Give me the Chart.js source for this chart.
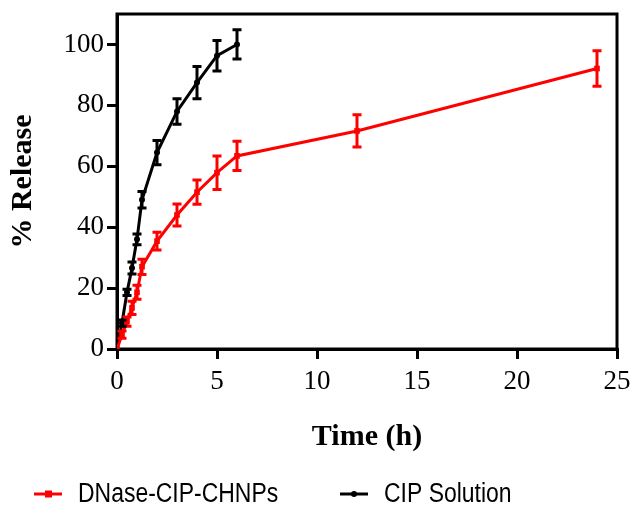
<!DOCTYPE html>
<html>
<head>
<meta charset="utf-8">
<script src="https://cdn.jsdelivr.net/npm/chart.js@4/dist/chart.umd.min.js"></script>
<style>
  html, body { margin: 0; padding: 0; background: #fff; }
  #wrap { width: 631px; height: 507px; }
</style>
</head>
<body>
<div id="wrap"><canvas id="grafico" width="631" height="507"></canvas></div>
<script>
// tiempos de muestreo (h)
const tiemposNP = [0, 0.25, 0.5, 0.75, 1, 1.25, 2, 3, 4, 5, 6, 12, 24];
const liberacionNP = [0, 4.7, 9, 13.5, 18.6, 27, 35.4, 44, 51.5, 57.9, 63.4, 71.6, 92.1];
const errorNP = [0, 1.2, 1.5, 2.2, 2.3, 2.5, 2.9, 3.6, 4, 5.5, 4.8, 5.3, 5.8];

const tiemposSol = [0, 0.25, 0.5, 0.75, 1, 1.25, 2, 3, 4, 5, 6];
const liberacionSol = [0, 8.5, 18.6, 26.6, 36, 49, 64.5, 78, 87.5, 96.3, 100];
const errorSol = [0, 1, 1, 2, 1.8, 2.7, 4, 4.2, 5.3, 5, 4.8];

const etiquetas = ['DNase-CIP-CHNPs', 'CIP Solution'];
const ticksX = [0, 5, 10, 15, 20, 25];
const ticksY = [0, 20, 40, 60, 80, 100];

const serif = "'Liberation Serif', 'Times New Roman', serif";

function puntos(xs, ys) {
    return xs.map((x, i) => ({ x: x, y: ys[i] }));
}

// barras de error dibujadas con las escalas del gráfico
const barrasError = {
    id: 'barrasError',
    afterDatasetsDraw(chart) {
        const ctx = chart.ctx;
        const yScale = chart.scales.y;
        chart.data.datasets.forEach((ds, i) => {
            const meta = chart.getDatasetMeta(i);
            ctx.save();
            ctx.strokeStyle = ds.borderColor;
            ctx.lineWidth = 3;
            meta.data.forEach((pt, j) => {
                const e = ds.errores[j];
                if (!e) return;
                const v = ds.data[j].y;
                const y1 = yScale.getPixelForValue(v - e);
                const y2 = yScale.getPixelForValue(v + e);
                ctx.beginPath();
                ctx.moveTo(pt.x, y1); ctx.lineTo(pt.x, y2);
                ctx.moveTo(pt.x - 4.5, y1); ctx.lineTo(pt.x + 4.5, y1);
                ctx.moveTo(pt.x - 4.5, y2); ctx.lineTo(pt.x + 4.5, y2);
                ctx.stroke();
            });
            ctx.restore();
        });
    }
};

// marco completo alrededor del área del gráfico
const marco = {
    id: 'marco',
    beforeDatasetsDraw(chart) {
        const a = chart.chartArea;
        const ctx = chart.ctx;
        ctx.save();
        ctx.strokeStyle = '#000';
        ctx.lineWidth = 3;
        ctx.strokeRect(a.left, a.top, a.right - a.left, a.bottom - a.top);
        ctx.restore();
    }
};

// leyenda inferior con línea y marcador
const leyenda = {
    id: 'leyenda',
    afterDraw(chart) {
        const ctx = chart.ctx;
        const y = 494;
        const items = [
            { x: 34, color: 'rgb(255,0,0)', forma: 'cuadro', texto: etiquetas[0] },
            { x: 340, color: '#000', forma: 'circulo', texto: etiquetas[1] }
        ];
        items.forEach(it => {
            ctx.save();
            ctx.strokeStyle = it.color;
            ctx.fillStyle = it.color;
            ctx.lineWidth = 3;
            ctx.beginPath();
            ctx.moveTo(it.x, y); ctx.lineTo(it.x + 28, y);
            ctx.stroke();
            if (it.forma === 'cuadro') {
                ctx.fillRect(it.x + 11, y - 3.5, 7, 7);
            } else {
                ctx.beginPath();
                ctx.arc(it.x + 14, y, 3, 0, Math.PI * 2);
                ctx.fill();
            }
            ctx.fillStyle = '#000';
            ctx.font = "27px 'Liberation Sans', Arial, sans-serif";
            ctx.textBaseline = 'middle';
            ctx.translate(it.x + 44, y);
            ctx.scale(0.85, 1);
            ctx.fillText(it.texto, 0, 1);
            ctx.restore();
        });
    }
};

const ctx = document.getElementById('grafico').getContext('2d');
new Chart(ctx, {
    type: 'scatter',
    data: {
        datasets: [
            {
                label: etiquetas[0],
                data: puntos(tiemposNP, liberacionNP),
                errores: errorNP,
                showLine: true,
                borderColor: 'rgb(255,0,0)',
                backgroundColor: 'rgb(255,0,0)',
                borderWidth: 3,
                pointStyle: 'rect',
                pointRadius: 4,
                pointBorderWidth: 0
            },
            {
                label: etiquetas[1],
                data: puntos(tiemposSol, liberacionSol),
                errores: errorSol,
                showLine: true,
                borderColor: '#000',
                backgroundColor: '#000',
                borderWidth: 3,
                pointStyle: 'circle',
                pointRadius: 3,
                pointBorderWidth: 0
            }
        ]
    },
    options: {
        responsive: false,
        animation: false,
        layout: { padding: { left: 0, top: 14, right: 14, bottom: 52 } },
        plugins: {
            legend: { display: false },
            tooltip: { enabled: false }
        },
        scales: {
            x: {
                type: 'linear',
                min: 0,
                max: 25,
                afterFit: s => { s.height = 106; s.paddingLeft = 0; s.paddingRight = 0; },
                afterBuildTicks: s => { s.ticks = ticksX.map(v => ({ value: v })); },
                grid: { display: true, drawOnChartArea: false, drawTicks: true, tickLength: 10, lineWidth: 3, color: '#000' },
                border: { display: true, width: 3, color: '#000' },
                ticks: { color: '#000', padding: 7, maxRotation: 0, font: { family: serif, size: 27 } },
                title: { display: true, text: 'Time (h)', color: '#000', padding: { top: 0, bottom: 0 }, font: { family: serif, size: 30, weight: 'bold' } }
            },
            y: {
                min: 0,
                max: 110,
                afterFit: s => { s.width = 117; s.paddingTop = 0; s.paddingBottom = 0; },
                afterBuildTicks: s => { s.ticks = ticksY.map(v => ({ value: v })); },
                grid: { display: true, drawOnChartArea: false, drawTicks: true, tickLength: 10, lineWidth: 3, color: '#000' },
                border: { display: true, width: 3, color: '#000' },
                ticks: { color: '#000', padding: 3, font: { family: serif, size: 27 } },
                title: { display: true, text: '% Release', color: '#000', padding: { top: 5, bottom: 0 }, font: { family: serif, size: 30, weight: 'bold' } }
            }
        }
    },
    plugins: [marco, barrasError, leyenda]
});
</script>
</body>
</html>
